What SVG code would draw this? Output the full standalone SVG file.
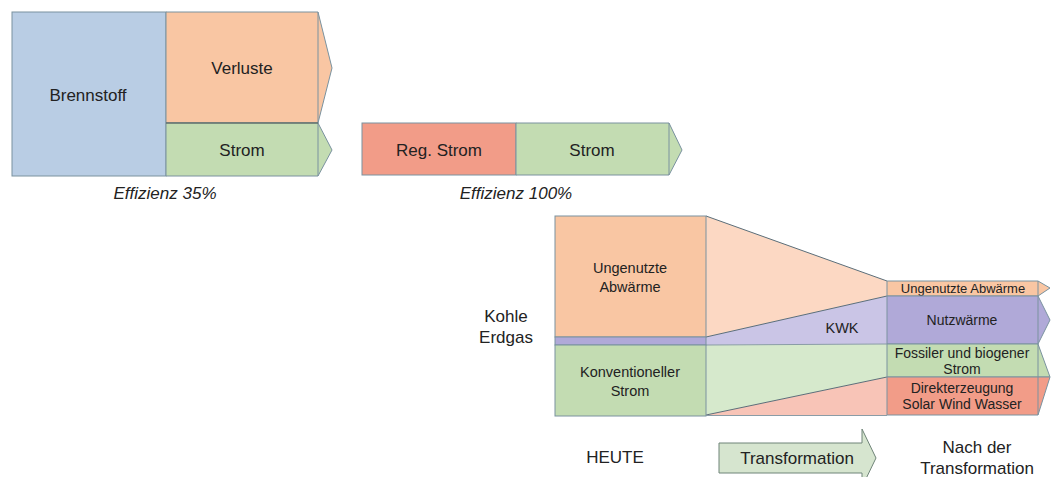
<svg xmlns="http://www.w3.org/2000/svg" width="1053" height="477" viewBox="0 0 1053 477">
  <style>
    .box { stroke: #7a929f; stroke-width: 1; }
    .edge { stroke: #5b6e79; stroke-width: 1; fill: none; }
    .blue { fill: #b9cde4; }
    .orange { fill: #f9c6a3; }
    .green { fill: #c3dcb2; }
    .red { fill: #f29c88; }
    .purple { fill: #b0a9d8; }
    .orange-l { fill: #fcd8c3; }
    .purple-l { fill: #cac5e6; }
    .green-l { fill: #d6e9cc; }
    .red-l { fill: #f8c4b7; }
    text { font-family: "Liberation Sans", Arial, sans-serif; fill: #222; text-anchor: middle; }
    .t17 { font-size: 17px; }
    .t15 { font-size: 14.5px; }
    .t14 { font-size: 14px; }
    .t13 { font-size: 13px; }
    .cap { font-size: 17px; font-style: italic; }
  </style>

  <!-- Conventional power plant: fuel split into losses and electricity -->
  <g id="brennstoff">
    <rect class="box blue" x="12" y="12" width="154" height="164"/>
    <text class="t17" x="88" y="101">Brennstoff</text>
  </g>
  <g id="verluste">
    <path class="box orange" d="M166 12 H318 L332 68 L318 123 H166 Z"/>
    <line class="box" x1="318" y1="12" x2="318" y2="123"/>
    <text class="t17" x="242" y="74">Verluste</text>
  </g>
  <g id="strom-35">
    <path class="box green" d="M166 123 H318 L332 150 L318 176 H166 Z"/>
    <line class="box" x1="318" y1="123" x2="318" y2="176"/>
    <line x1="166" y1="123" x2="318" y2="123" stroke="#4e5a52" stroke-width="1"/>
    <text class="t17" x="242" y="156">Strom</text>
  </g>
  <text class="cap" x="165" y="199">Effizienz 35%</text>

  <!-- Renewable electricity: no losses -->
  <g id="reg-strom">
    <rect class="box red" x="362" y="123" width="154" height="52"/>
    <text class="t17" x="439" y="156">Reg. Strom</text>
  </g>
  <g id="strom-100">
    <path class="box green" d="M516 123 H669 L682 150 L669 175 H516 Z"/>
    <line class="box" x1="669" y1="123" x2="669" y2="175"/>
    <text class="t17" x="592" y="156">Strom</text>
  </g>
  <text class="cap" x="516" y="199">Effizienz 100%</text>

  <!-- Flows from today's mix to the mix after the transformation -->
  <g id="connectors">
    <path class="orange-l" d="M706 216 L887 281 L887 296 L706 337 Z"/>
    <path class="purple-l" d="M706 337 L887 296 L887 344 L706 345 Z"/>
    <path class="green-l" d="M706 345 L887 344 L887 377 L706 415 Z"/>
    <path class="red-l" d="M706 415 L887 377 L887 415 Z"/>
    <path class="edge" d="M706 216 L887 281"/>
    <path class="edge" d="M706 337 L887 296"/>
    <path class="edge" d="M706 415 L887 377"/>
    <line x1="706" y1="345" x2="887" y2="344" stroke="#8a9ca6" stroke-width="1"/>
    <line x1="706" y1="415.5" x2="887" y2="415.5" stroke="#8a9ca6" stroke-width="1"/>
    <text class="t15" x="842" y="333">KWK</text>
  </g>

  <!-- Today -->
  <g id="abwaerme-heute">
    <rect class="box orange" x="555" y="216" width="151" height="121"/>
    <text class="t15" x="630" y="273">Ungenutzte</text>
    <text class="t15" x="630" y="292">Abwärme</text>
  </g>
  <g id="kwk-heute">
    <rect class="box purple" x="555" y="337" width="151" height="8"/>
  </g>
  <g id="strom-heute">
    <rect class="box green" x="555" y="345" width="151" height="71"/>
    <text class="t15" x="630" y="377">Konventioneller</text>
    <text class="t15" x="630" y="396">Strom</text>
  </g>
  <g id="kohle-erdgas">
    <text class="t17" x="506" y="322">Kohle</text>
    <text class="t17" x="506" y="343">Erdgas</text>
  </g>

  <!-- After the transformation -->
  <g id="abwaerme-nach">
    <path class="box orange" d="M887 281 H1038 L1050 288 L1038 296 H887 Z"/>
    <line class="box" x1="1038" y1="281" x2="1038" y2="296"/>
    <text class="t13" x="963" y="293">Ungenutzte Abwärme</text>
  </g>
  <g id="nutzwaerme">
    <path class="box purple" d="M887 296 H1038 L1050 320 L1038 344 H887 Z"/>
    <line class="box" x1="1038" y1="296" x2="1038" y2="344"/>
    <text class="t14" x="962" y="325">Nutzwärme</text>
  </g>
  <g id="strom-nach">
    <path class="box green" d="M887 344 H1038 L1050 377 H887 Z"/>
    <text class="t14" x="962" y="358">Fossiler und biogener</text>
    <text class="t14" x="962" y="374">Strom</text>
  </g>
  <g id="direkterzeugung">
    <path class="box red" d="M887 377 H1050 L1038 415 H887 Z"/>
    <line class="box" x1="1038" y1="344" x2="1038" y2="415"/>
    <text class="t14" x="962" y="393">Direkterzeugung</text>
    <text class="t14" x="962" y="409">Solar Wind Wasser</text>
  </g>

  <!-- Captions along the bottom -->
  <text class="t17" x="615" y="463">HEUTE</text>
  <g id="transformation">
    <path d="M719 443 H862 V429 L876 458 L862 487 V473 H719 Z" fill="#d6e5cf" stroke="#6f8478" stroke-width="1"/>
    <text class="t17" x="797" y="464">Transformation</text>
  </g>
  <text class="t17" x="977" y="453">Nach der</text>
  <text class="t17" x="977" y="474">Transformation</text>
</svg>
